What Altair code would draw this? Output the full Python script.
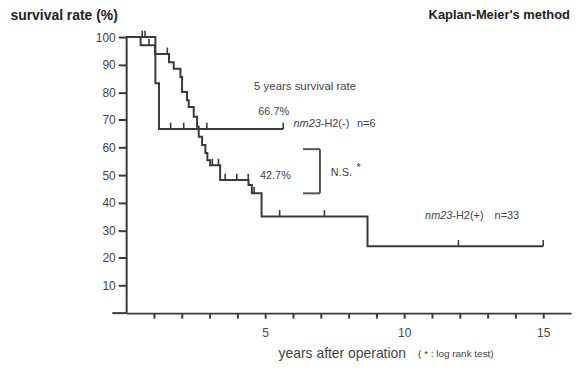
import altair as alt
import pandas as pd

FONT = "Liberation Sans"
INK = "#3a3a3a"

# nm23-H2(-), n=6 : step times (years) and survival (%)
neg_t = [0, 1.05, 1.18, 5.65]
neg_s = [100, 83.3, 66.7, 66.7]
neg_cens = [0.58, 0.68, 1.6, 2.07, 2.9, 5.65]

# nm23-H2(+), n=33
pos_t = [0, 0.52, 1.04, 1.54, 1.71, 1.95, 2.01, 2.19, 2.25, 2.43, 2.55, 2.61,
         2.73, 2.85, 2.92, 3.02, 3.38, 4.40, 4.52, 4.87, 8.68, 15.0]
pos_s = [100, 97.0, 93.9, 90.9, 88.5, 85.5, 80.1, 77.1, 74.7, 71.1, 67.5, 63.9,
         60.9, 58.0, 55.4, 53.6, 48.2, 46.4, 43.4, 35.0, 24.2, 24.2]
pos_cens = [0.82, 1.48, 3.1, 3.32, 3.56, 3.98, 4.39, 4.6, 5.52, 7.13, 11.95, 15.0]

y_ticks = [10, 20, 30, 40, 50, 60, 70, 80, 90, 100]
x_ticks = list(range(1, 16))


def surv_at(ts, ss, t):
    v = ss[0]
    for a, b in zip(ts, ss):
        if a <= t:
            v = b
    return v


curve = pd.DataFrame(
    [{"g": "neg", "t": a, "s": b} for a, b in zip(neg_t, neg_s)]
    + [{"g": "pos", "t": a, "s": b} for a, b in zip(pos_t, pos_s)]
)
cens = pd.DataFrame(
    [{"t": c, "s": surv_at(neg_t, neg_s, c)} for c in neg_cens]
    + [{"t": c, "s": surv_at(pos_t, pos_s, c)} for c in pos_cens]
)
cens["s2"] = cens["s"] + 2.3

xs = alt.Scale(domain=[0, 16], nice=False, zero=False)
ys = alt.Scale(domain=[0, 100], nice=False, zero=False)

x_axis = alt.Axis(
    values=x_ticks,
    labelExpr="datum.value % 5 == 0 ? datum.label : ''",
    tickSize=5, tickWidth=2, tickColor=INK,
    domainWidth=2, domainColor=INK,
    labelPadding=10, labelFontSize=12, labelFont=FONT, labelColor="#444",
    grid=False,
    title="years after operation",
    titleFont=FONT, titleFontSize=14, titleFontWeight="normal", titleColor="#444",
    titleAlign="left", titleBaseline="middle", titleAnchor="start",
    titleX=153, titleY=41,
)
y_axis = alt.Axis(
    values=y_ticks,
    tickSize=8, tickWidth=2, tickColor=INK,
    domainWidth=2, domainColor=INK,
    labelPadding=3, labelFontSize=12, labelFont=FONT, labelColor="#444",
    grid=False,
    title="survival rate (%)",
    titleFont=FONT, titleFontSize=14, titleFontWeight="bold", titleColor="#222",
    titleAngle=0, titleAlign="left", titleBaseline="middle",
    titleX=-117, titleY=-22,
)


def X(f="t:Q"):
    return alt.X(f, scale=xs, axis=x_axis)


def Y(f="s:Q"):
    return alt.Y(f, scale=ys, axis=y_axis)


lines = alt.Chart(curve).mark_line(
    interpolate="step-after", color=INK, strokeWidth=2
).encode(x=X(), y=Y(), detail="g:N")

ticks = alt.Chart(cens).mark_rule(color=INK, strokeWidth=1.6).encode(
    x=X(), y=Y(), y2="s2:Q",
)

# x axis line extending left of the y axis
ext = pd.DataFrame({"t": [-0.5], "t2": [0], "s": [0]})
ext_rule = alt.Chart(ext).mark_rule(color=INK, strokeWidth=2).encode(
    x=X(), x2="t2:Q", y=Y(),
)

# N.S. bracket
br = pd.DataFrame({
    "t": [6.97, 6.36, 6.36],
    "t2": [6.97, 6.97, 6.97],
    "s": [43.4, 59.4, 43.4],
    "s2": [59.4, 59.4, 43.4],
})
bracket = alt.Chart(br).mark_rule(color="#555", strokeWidth=2).encode(
    x=X(), x2="t2:Q", y=Y(), y2="s2:Q",
)

ann_labels = ["5 years survival rate", "66.7%", "42.7%", "N.S.", "*",
              "-H2(-)", "n=6", "-H2(+)", "n=33"]
ann_t = [4.6, 4.75, 4.81, 7.36, 8.28, 7.0, 8.3, 11.73, 13.25]
ann_s = [81.9, 72.9, 49.5, 50.8, 52.6, 68.4, 68.4, 35.0, 35.0]
ann_size = [11.5, 11, 11, 11, 11, 11, 11, 11, 11]
ann = pd.DataFrame({"label": ann_labels, "t": ann_t, "s": ann_s, "size": ann_size})

texts = alt.Chart(ann).mark_text(
    align="left", baseline="middle", font=FONT, color="#444"
).encode(
    x=X(), y=Y(), text="label:N",
    size=alt.Size("size:Q", scale=None, legend=None),
)

ital = pd.DataFrame({"label": ["nm23", "nm23"], "t": [6.02, 10.75], "s": [68.4, 35.0]})
ital_text = alt.Chart(ital).mark_text(
    align="left", baseline="middle", font=FONT, color="#444",
    fontStyle="italic", fontSize=11,
).encode(x=X(), y=Y(), text="label:N")

head = pd.DataFrame({"label": ["Kaplan-Meier's method"], "t": [15.96], "s": [108.0]})
head_text = alt.Chart(head).mark_text(
    align="right", baseline="middle", font=FONT, color="#222",
    fontSize=13, fontWeight="bold",
).encode(x=X(), y=Y(), text="label:N")

note = pd.DataFrame({"label": ["( * : log rank test)"], "t": [10.5], "s": [-14.7]})
note_text = alt.Chart(note).mark_text(
    align="left", baseline="middle", font=FONT, color="#444", fontSize=10,
).encode(x=X(), y=Y(), text="label:N")

chart = alt.layer(
    lines, ticks, ext_rule, bracket, texts, ital_text, head_text, note_text
).properties(
    width=448, height=278,
    padding={"left": 119, "top": 28, "right": 5, "bottom": 56},
    autosize=alt.AutoSizeParams(type="none"),
    background="white",
).configure_view(stroke=None)

chart.save("out.html", embed_options={"renderer": "svg", "actions": False})
